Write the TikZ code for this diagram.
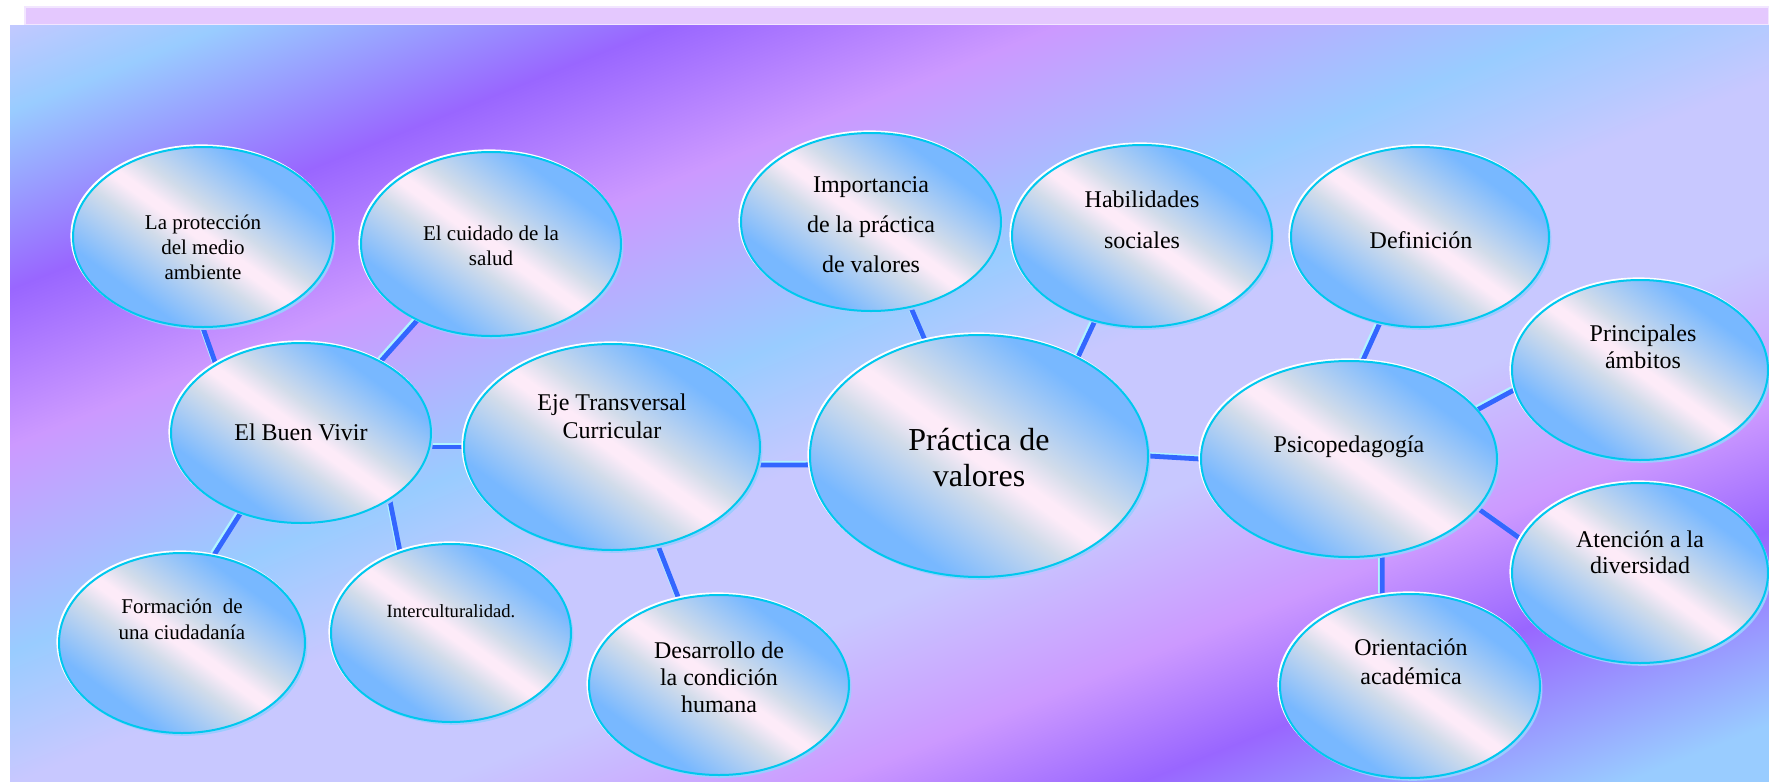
\documentclass[tikz,border=0pt]{standalone}
\usepackage{fontspec}
\setmainfont{Liberation Serif}
\usepackage{tikz}
\usetikzlibrary{shapes.geometric}

\definecolor{bglav}{HTML}{C8C8FF}
\definecolor{bgblue}{HTML}{99CCFF}
\definecolor{bgpurple}{HTML}{9966FF}
\definecolor{bgpink}{HTML}{CC99FF}
\definecolor{stripcol}{HTML}{E4C8FE}
\definecolor{stripedge}{HTML}{F2E6FF}
\definecolor{bubblue}{HTML}{78B8FF}
\definecolor{bubgray}{HTML}{D2DCEA}
\definecolor{bubpink}{HTML}{FDEBF8}
\definecolor{bubline}{HTML}{00C8EE}
\definecolor{bubshadow}{HTML}{9CCBFF}
\definecolor{connblue}{HTML}{3366FF}
\definecolor{connlight}{HTML}{B0F4FF}

\pgfdeclareverticalshading{bgshade}{100bp}{color(0bp)=(bglav); color(32bp)=(bglav);
  color(34.4bp)=(bgblue); color(38.7bp)=(bgpurple); color(42.5bp)=(bgpink);
  color(47.5bp)=(bgblue); color(50.7bp)=(bglav); color(54.8bp)=(bglav);
  color(58.6bp)=(bgpink); color(61.6bp)=(bgpurple); color(66.3bp)=(bgblue);
  color(100bp)=(bgblue)}
\pgfdeclareverticalshading{bubshade}{100bp}{color(0bp)=(bubblue); color(30bp)=(bubblue);
  color(44bp)=(bubgray); color(49bp)=(bubpink); color(51bp)=(bubpink);
  color(56bp)=(bubgray); color(70bp)=(bubblue); color(100bp)=(bubblue)}

\pgfdeclarelayer{back}
\pgfdeclarelayer{conns}
\pgfsetlayers{back,conns,main}

\begin{document}
\begin{tikzpicture}[x=0.5pt,y=-0.5pt,
  bubble/.style={ellipse, inner sep=0pt, draw=bubline, line width=1pt,
    shade, shading=bubshade, shading angle=-36,
    preaction={fill=bubshadow, transform canvas={shift={(1.2pt,-1.4pt)}}},
    preaction={draw=white, line width=1.2pt, transform canvas={shift={(-0.7pt,0.7pt)}}}},
  conn/.style={draw=connblue, line width=2.4pt,
    preaction={draw=connlight, line width=2pt, transform canvas={shift={(-1pt,1pt)}}}},
  txt/.style={align=center, inner sep=0pt, font=\fontsize{12}{14}\selectfont}]
\useasboundingbox (0,0) rectangle (1769,782);

\begin{pgfonlayer}{back}
\fill[white] (0,0) rectangle (1769,782);
\fill[stripcol, draw=stripedge, line width=0.6pt] (25,7) rectangle (1769,25);
\begin{scope}
\clip (10,25) rectangle (1769,782);
\shade[shading=bgshade, shading angle=-158.2] (-70.5,-556.5) rectangle (1849.5,1363.5);
\end{scope}
\end{pgfonlayer}

% eje izquierdo
\node[bubble, minimum width=130pt, minimum height=90pt] (proteccion) at (203,237) {};
\node[bubble, minimum width=130pt, minimum height=92pt] (cuidado) at (491,244) {};
\node[bubble, minimum width=130pt, minimum height=90pt] (buenvivir) at (301,433) {};
\node[bubble, minimum width=148pt, minimum height=103pt] (eje) at (612,447) {};
\node[bubble, minimum width=123pt, minimum height=90pt] (formacion) at (182,643) {};
\node[bubble, minimum width=120pt, minimum height=89pt] (intercult) at (451,633) {};
\node[bubble, minimum width=130pt, minimum height=90pt] (desarrollo) at (719,685) {};
% centro
\node[bubble, minimum width=169pt, minimum height=121pt] (practica) at (979,456) {};
\node[bubble, minimum width=130pt, minimum height=89pt] (importancia) at (871,222) {};
\node[bubble, minimum width=130pt, minimum height=91pt] (habilidades) at (1142,236) {};
% derecha
\node[bubble, minimum width=129pt, minimum height=90pt] (definicion) at (1420,237) {};
\node[bubble, minimum width=148pt, minimum height=98pt] (psico) at (1349,459) {};
\node[bubble, minimum width=128pt, minimum height=90pt] (ambitos) at (1640,370) {};
\node[bubble, minimum width=128pt, minimum height=90pt] (atencion) at (1640,573) {};
\node[bubble, minimum width=130pt, minimum height=92pt] (orientacion) at (1410,686) {};

% textos
\node[txt, font=\fontsize{10.5}{12.5}\selectfont] (proteccion-t) at (203,247) {La protección\\del medio\\ambiente};
\node[txt, font=\fontsize{10.5}{12.5}\selectfont] (cuidado-t) at (491,246) {El cuidado de la\\salud};
\node[txt] (buenvivir-t) at (301,432) {El Buen Vivir};
\node[txt] (eje-t) at (612,416) {Eje Transversal\\Curricular};
\node[txt, font=\fontsize{10.5}{13}\selectfont] (formacion-t) at (182,619) {Formación~ de\\una ciudadanía};
\node[txt, font=\fontsize{9.3}{11}\selectfont] (intercult-t) at (451,611) {Interculturalidad.};
\node[txt, font=\fontsize{12}{13.5}\selectfont] (desarrollo-t) at (719,677) {Desarrollo de\\la condición\\humana};
\node[txt, font=\fontsize{16}{18}\selectfont] (practica-t) at (979,458) {Práctica de\\valores};
\node[txt, font=\fontsize{12}{20}\selectfont] (importancia-t) at (871,225) {Importancia\\de la práctica\\de valores};
\node[txt, font=\fontsize{12}{20.5}\selectfont] (habilidades-t) at (1142,220) {Habilidades\\sociales};
\node[txt] (definicion-t) at (1421,240) {Definición};
\node[txt] (psico-t) at (1349,447) {Psicopedagogía};
\node[txt, font=\fontsize{12}{13.5}\selectfont] (ambitos-t) at (1643,347) {Principales\\ámbitos};
\node[txt, font=\fontsize{12}{13}\selectfont] (atencion-t) at (1640,552) {Atención a la\\diversidad};
\node[txt, font=\fontsize{12}{14.5}\selectfont] (orientacion-t) at (1411,662) {Orientación\\académica};

\begin{pgfonlayer}{conns}
\draw[conn] (proteccion.south) -- (buenvivir.141);
\draw[conn] (cuidado.-134) -- (buenvivir.42);
\draw[conn] (buenvivir.east |- eje.west) -- (eje.west);
\draw[conn] (buenvivir.-127) -- (formacion.70);
\draw[conn] (buenvivir.-37) -- (intercult.122);
\draw[conn] (eje.-65) -- (desarrollo.115);
\draw[conn] (eje.-7) -- (practica.-177);
\draw[conn] (importancia.-65) -- (practica.115);
\draw[conn] (habilidades.-119) -- (practica.45);
\draw[conn] (practica.east) -- (psico.west);
\draw[conn] (definicion.-115) -- (psico.82);
\draw[conn] (psico.21) -- (ambitos.-171);
\draw[conn] (psico.-21) -- (atencion.164);
\draw[conn] (psico.-71) -- (orientacion.107);
\end{pgfonlayer}
\end{tikzpicture}
\end{document}
